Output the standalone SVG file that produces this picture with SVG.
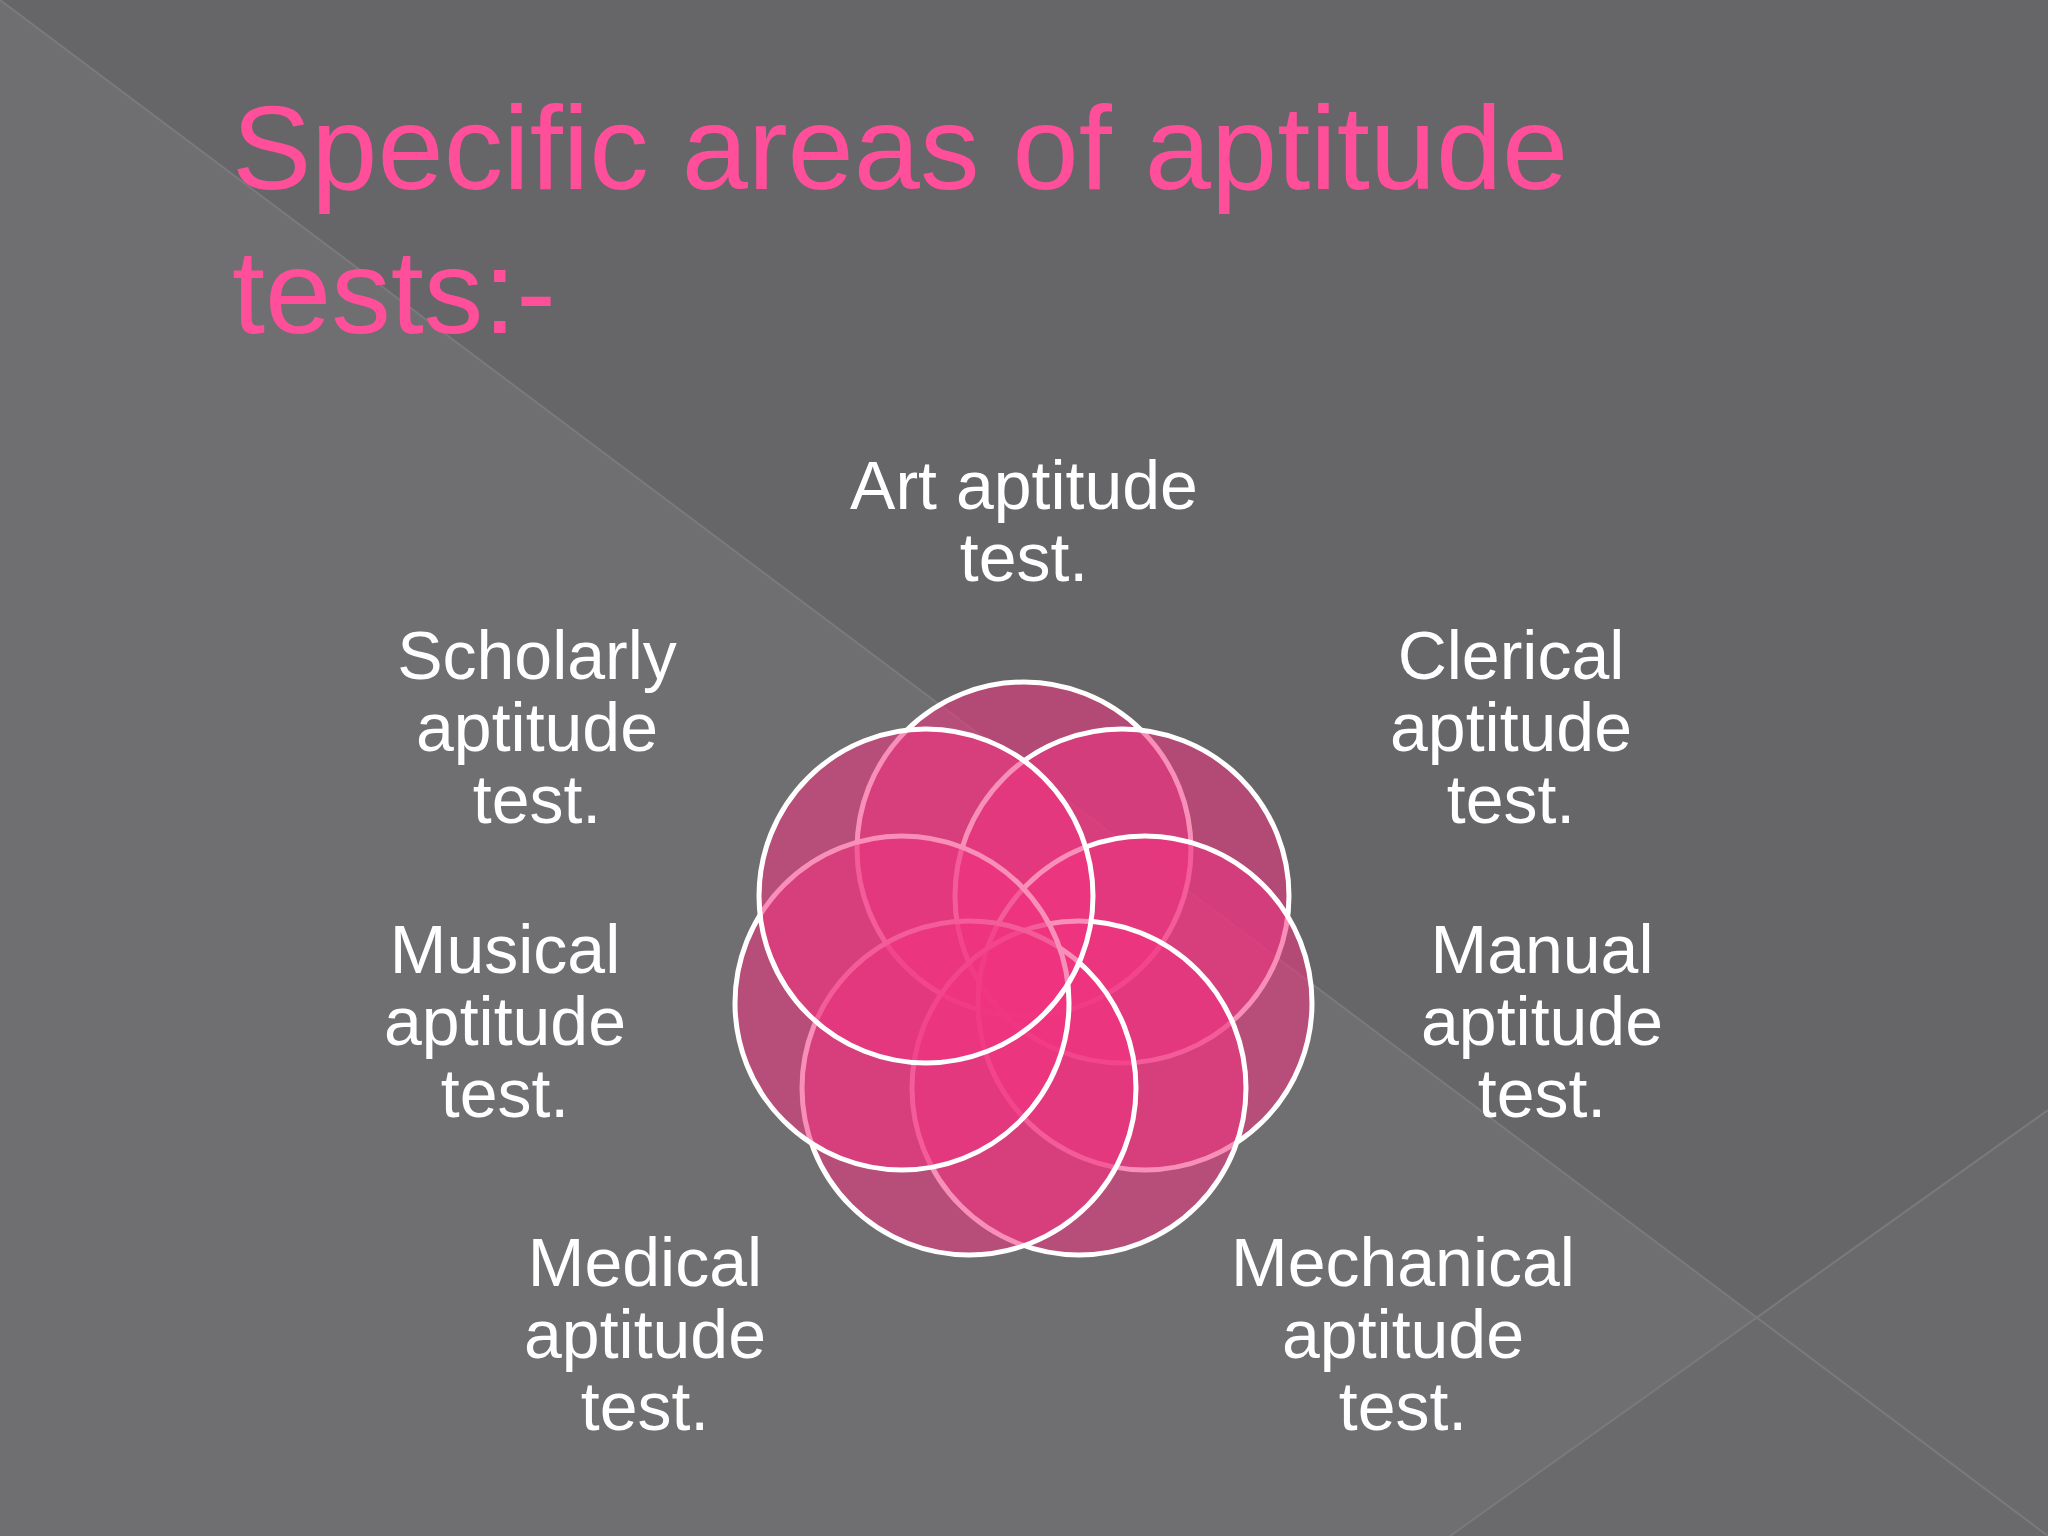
<svg xmlns="http://www.w3.org/2000/svg" width="2048" height="1536" viewBox="0 0 2048 1536">
<style>
.t{font-family:"Liberation Sans",Arial,sans-serif;font-size:119px;fill:#ff4f9a}
.l{font-family:"Liberation Sans",Arial,sans-serif;font-size:68px;fill:#fff;text-anchor:middle}
.c{fill:#f0337f;fill-opacity:0.55;stroke:#fff;stroke-width:5}
</style>
<rect width="2048" height="1536" fill="#666668"/>
<polygon points="0,0 2048,1536 0,1536" fill="#6f6f71"/>
<polygon points="1450,1536 2048,1110 2048,1536" fill="#6a6a6c"/>
<line x1="0" y1="0" x2="2048" y2="1536" stroke="#7a7a7c" stroke-width="2"/>
<line x1="1450" y1="1536" x2="2048" y2="1110" stroke="#7a7a7c" stroke-width="2"/>
<g id="title">
<text class="t" x="232" y="189">Specific areas of aptitude</text>
<text class="t" x="232" y="333">tests:-</text>
</g>
<g id="flower">
<circle id="c1" class="c" cx="1024" cy="849" r="167"/>
<circle id="c2" class="c" cx="1122" cy="896" r="167"/>
<circle id="c3" class="c" cx="1145" cy="1003" r="167"/>
<circle id="c4" class="c" cx="1079" cy="1088" r="167"/>
<circle id="c5" class="c" cx="969" cy="1088" r="167"/>
<circle id="c6" class="c" cx="902" cy="1003" r="167"/>
<circle id="c7" class="c" cx="926" cy="896" r="167"/>
</g>
<g id="labels">
<text class="l" x="1024" y="509">Art aptitude<tspan x="1024" y="581">test.</tspan></text>
<text class="l" x="537" y="679">Scholarly<tspan x="537" y="751">aptitude</tspan><tspan x="537" y="823">test.</tspan></text>
<text class="l" x="1511" y="679">Clerical<tspan x="1511" y="751">aptitude</tspan><tspan x="1511" y="823">test.</tspan></text>
<text class="l" x="505" y="973">Musical<tspan x="505" y="1045">aptitude</tspan><tspan x="505" y="1117">test.</tspan></text>
<text class="l" x="1542" y="973">Manual<tspan x="1542" y="1045">aptitude</tspan><tspan x="1542" y="1117">test.</tspan></text>
<text class="l" x="645" y="1286">Medical<tspan x="645" y="1358">aptitude</tspan><tspan x="645" y="1430">test.</tspan></text>
<text class="l" x="1403" y="1286">Mechanical<tspan x="1403" y="1358">aptitude</tspan><tspan x="1403" y="1430">test.</tspan></text>
</g>
</svg>
